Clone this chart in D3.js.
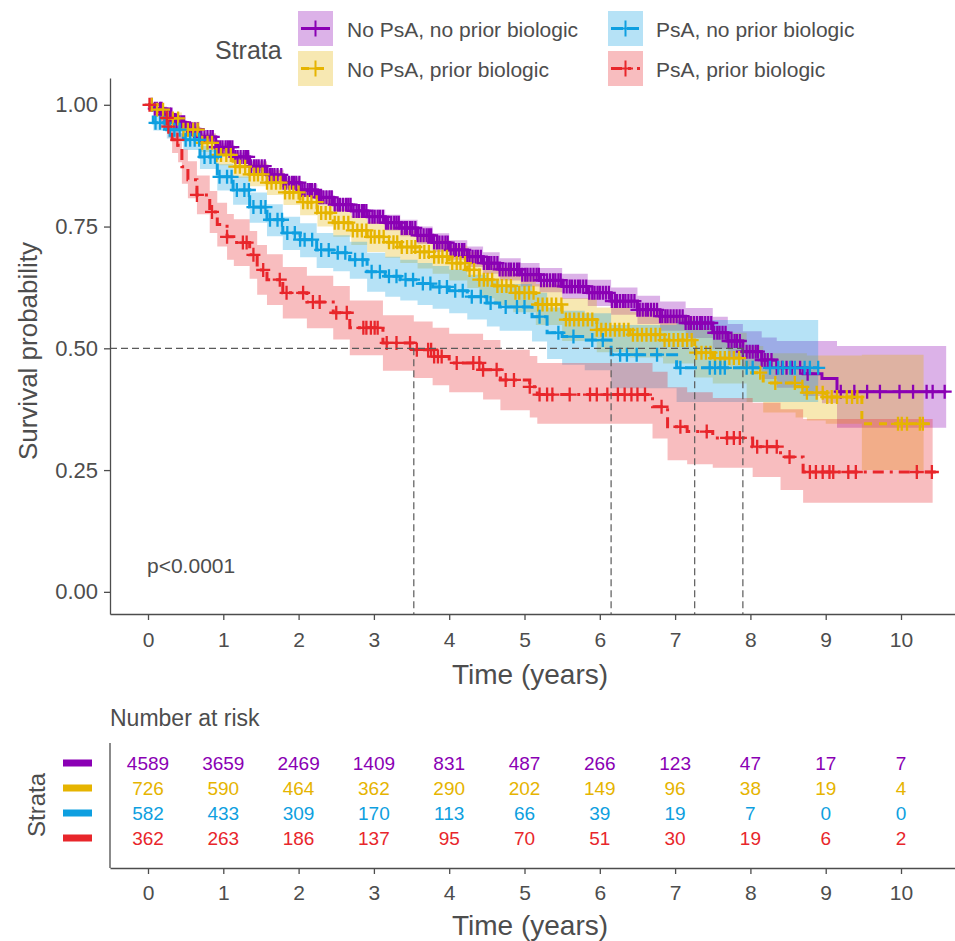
<!DOCTYPE html>
<html>
<head>
<meta charset="utf-8">
<script src="https://cdn.jsdelivr.net/npm/d3@7"></script>
<style>
  body { margin: 0; background: #fff; }
  text { font-family: "Liberation Sans", Arial, sans-serif; fill: #4d4d4d; }
</style>
</head>
<body>
<svg id="chart" width="955" height="941"></svg>
<script>
// ---- data ----
const strata = ["No PsA, no prior biologic", "No PsA, prior biologic", "PsA, no prior biologic", "PsA, prior biologic"];
const colors = ["#8A00B4", "#E6B400", "#0E9FE0", "#E8262B"];
const dashes = [null, "8,7", "12,4", "11,6,3,6"];

const s1Time  = [0, 0.08, 0.2, 0.35, 0.5, 0.69, 0.9, 1.13, 1.35, 1.58, 1.8, 2.02, 2.25, 2.46, 2.7, 2.91, 3.15, 3.35, 3.58, 3.78, 4.0, 4.24, 4.45, 4.67, 4.95, 5.2, 5.5, 5.84, 6.15, 6.5, 6.8, 7.14, 7.5, 7.7, 7.9, 8.15, 8.35, 8.7, 8.95, 9.15];
const s1Surv  = [1, 0.992, 0.98, 0.964, 0.95, 0.934, 0.913, 0.893, 0.874, 0.856, 0.84, 0.825, 0.81, 0.795, 0.782, 0.77, 0.758, 0.747, 0.732, 0.717, 0.702, 0.688, 0.675, 0.662, 0.651, 0.64, 0.627, 0.614, 0.597, 0.579, 0.566, 0.552, 0.532, 0.515, 0.493, 0.476, 0.46, 0.448, 0.438, 0.411];
const s1Lower = [1, 0.989, 0.976, 0.959, 0.944, 0.927, 0.905, 0.884, 0.864, 0.845, 0.829, 0.813, 0.797, 0.782, 0.768, 0.755, 0.742, 0.73, 0.714, 0.698, 0.682, 0.667, 0.653, 0.639, 0.627, 0.615, 0.601, 0.587, 0.569, 0.55, 0.536, 0.521, 0.499, 0.48, 0.457, 0.437, 0.419, 0.402, 0.387, 0.337];
const s1Upper = [1, 0.995, 0.984, 0.969, 0.956, 0.941, 0.921, 0.902, 0.884, 0.867, 0.851, 0.837, 0.823, 0.808, 0.796, 0.785, 0.774, 0.764, 0.75, 0.736, 0.722, 0.709, 0.697, 0.685, 0.675, 0.665, 0.653, 0.641, 0.625, 0.608, 0.596, 0.583, 0.565, 0.55, 0.535, 0.522, 0.515, 0.515, 0.515, 0.505];
const s1Censor = [0.05, 0.09, 0.12, 0.16, 0.18, 0.22, 0.26, 0.29, 0.31, 0.35, 0.38, 0.42, 0.45, 0.48, 0.52, 0.55, 0.58, 0.62, 0.66, 0.69, 0.71, 0.75, 0.79, 0.83, 0.86, 0.9, 0.93, 0.96, 0.99, 1.03, 1.06, 1.09, 1.12, 1.16, 1.19, 1.23, 1.27, 1.3, 1.33, 1.37, 1.41, 1.44, 1.47, 1.51, 1.55, 1.58, 1.62, 1.65, 1.68, 1.72, 1.77, 1.8, 1.83, 1.87, 1.91, 1.94, 1.97, 2.01, 2.05, 2.08, 2.12, 2.15, 2.18, 2.22, 2.27, 2.3, 2.33, 2.37, 2.41, 2.44, 2.48, 2.52, 2.55, 2.59, 2.63, 2.66, 2.69, 2.73, 2.77, 2.8, 2.84, 2.87, 2.9, 2.94, 2.98, 3.01, 3.05, 3.08, 3.12, 3.16, 3.19, 3.23, 3.27, 3.3, 3.33, 3.37, 3.41, 3.44, 3.48, 3.51, 3.55, 3.58, 3.62, 3.66, 3.7, 3.73, 3.76, 3.8, 3.84, 3.87, 3.91, 3.95, 3.98, 4.02, 4.06, 4.09, 4.13, 4.17, 4.2, 4.24, 4.27, 4.31, 4.35, 4.38, 4.42, 4.46, 4.5, 4.53, 4.56, 4.6, 4.64, 4.67, 4.71, 4.75, 4.79, 4.82, 4.86, 4.9, 4.93, 4.97, 5.01, 5.04, 5.08, 5.12, 5.16, 5.19, 5.22, 5.26, 5.3, 5.34, 5.38, 5.41, 5.45, 5.48, 5.52, 5.56, 5.6, 5.63, 5.67, 5.71, 5.74, 5.78, 5.82, 5.86, 5.9, 5.93, 5.97, 6.0, 6.04, 6.08, 6.12, 6.16, 6.2, 6.23, 6.27, 6.31, 6.34, 6.38, 6.42, 6.46, 6.5, 6.53, 6.57, 6.61, 6.64, 6.68, 6.72, 6.76, 6.8, 6.83, 6.87, 6.9, 6.94, 6.98, 7.02, 7.06, 7.1, 7.14, 7.18, 7.21, 7.25, 7.29, 7.33, 7.36, 7.4, 7.44, 7.48, 7.52, 7.56, 7.59, 7.63, 7.67, 7.71, 7.75, 7.79, 7.82, 7.86, 7.9, 7.95, 7.99, 8.03, 8.07, 8.1, 8.15, 8.19, 8.23, 8.28, 8.35, 8.42, 8.48, 8.55, 8.66, 8.76, 9.2, 9.38, 9.55, 9.72, 9.98, 10.16, 10.34, 10.42, 10.58];

const s2Time  = [0, 0.1, 0.25, 0.45, 0.69, 0.9, 1.13, 1.35, 1.58, 1.8, 2.02, 2.25, 2.46, 2.7, 2.91, 3.15, 3.35, 3.58, 3.78, 4.0, 4.24, 4.4, 4.6, 4.85, 5.15, 5.5, 5.96, 6.4, 6.84, 7.26, 7.5, 7.95, 8.17, 8.6, 8.75, 9.0, 9.48];
const s2Surv  = [1, 0.99, 0.972, 0.949, 0.922, 0.897, 0.873, 0.857, 0.84, 0.82, 0.8, 0.778, 0.758, 0.742, 0.729, 0.718, 0.708, 0.698, 0.688, 0.675, 0.661, 0.641, 0.628, 0.614, 0.59, 0.559, 0.538, 0.528, 0.517, 0.491, 0.48, 0.45, 0.429, 0.421, 0.409, 0.4, 0.345];
const s2Lower = [1, 0.983, 0.96, 0.933, 0.903, 0.876, 0.85, 0.833, 0.815, 0.794, 0.773, 0.75, 0.729, 0.712, 0.698, 0.686, 0.675, 0.664, 0.653, 0.639, 0.624, 0.603, 0.589, 0.574, 0.548, 0.515, 0.492, 0.481, 0.469, 0.44, 0.428, 0.39, 0.368, 0.358, 0.352, 0.345, 0.25];
const s2Upper = [1, 0.997, 0.984, 0.965, 0.941, 0.918, 0.896, 0.881, 0.865, 0.846, 0.827, 0.806, 0.787, 0.772, 0.76, 0.75, 0.741, 0.732, 0.723, 0.711, 0.698, 0.679, 0.667, 0.654, 0.632, 0.603, 0.584, 0.575, 0.565, 0.542, 0.532, 0.505, 0.49, 0.49, 0.485, 0.485, 0.487];
const s2Censor = [0.05, 0.12, 0.2, 0.26, 0.33, 0.4, 0.47, 0.53, 0.6, 0.66, 0.72, 0.79, 0.85, 0.91, 0.97, 1.04, 1.1, 1.16, 1.22, 1.29, 1.35, 1.41, 1.46, 1.52, 1.58, 1.64, 1.7, 1.76, 1.82, 1.88, 1.93, 2.0, 2.06, 2.12, 2.17, 2.24, 2.3, 2.36, 2.42, 2.48, 2.53, 2.6, 2.66, 2.72, 2.78, 2.84, 2.9, 2.96, 3.01, 3.07, 3.13, 3.2, 3.26, 3.31, 3.37, 3.44, 3.5, 3.55, 3.61, 3.67, 3.73, 3.8, 3.86, 3.91, 3.97, 4.04, 4.1, 4.15, 4.21, 4.27, 4.33, 4.4, 4.46, 4.51, 4.57, 4.64, 4.7, 4.76, 4.82, 4.88, 4.93, 5.0, 5.06, 5.12, 5.18, 5.24, 5.3, 5.36, 5.42, 5.49, 5.55, 5.6, 5.66, 5.72, 5.78, 5.84, 5.9, 5.96, 6.02, 6.08, 6.14, 6.2, 6.26, 6.32, 6.38, 6.44, 6.5, 6.56, 6.62, 6.68, 6.74, 6.8, 6.86, 6.92, 6.98, 7.04, 7.1, 7.16, 7.22, 7.28, 7.35, 7.41, 7.47, 7.53, 7.6, 7.66, 7.72, 7.78, 7.85, 8.13, 8.33, 8.59, 8.69, 8.75, 8.88, 8.96, 9.02, 9.08, 9.15, 9.28, 9.35, 9.42, 9.96, 10.01, 10.08, 10.25, 10.29];

const s3Time  = [0, 0.07, 0.25, 0.47, 0.69, 0.92, 1.13, 1.35, 1.58, 1.79, 2.02, 2.24, 2.46, 2.68, 2.91, 3.15, 3.35, 3.58, 3.78, 4.0, 4.24, 4.5, 4.67, 5.1, 5.3, 5.5, 5.8, 6.15, 7.02];
const s3Surv  = [1, 0.963, 0.949, 0.928, 0.893, 0.852, 0.825, 0.79, 0.764, 0.737, 0.723, 0.702, 0.696, 0.682, 0.657, 0.648, 0.641, 0.633, 0.626, 0.618, 0.606, 0.593, 0.585, 0.565, 0.532, 0.524, 0.517, 0.487, 0.46];
const s3Lower = [1, 0.947, 0.931, 0.907, 0.868, 0.824, 0.795, 0.758, 0.73, 0.702, 0.687, 0.665, 0.658, 0.643, 0.616, 0.606, 0.598, 0.589, 0.581, 0.572, 0.559, 0.545, 0.536, 0.514, 0.478, 0.466, 0.455, 0.418, 0.39];
const s3Upper = [1, 0.978, 0.966, 0.948, 0.916, 0.878, 0.853, 0.82, 0.796, 0.77, 0.757, 0.737, 0.732, 0.719, 0.696, 0.688, 0.682, 0.675, 0.669, 0.662, 0.651, 0.639, 0.632, 0.614, 0.584, 0.577, 0.572, 0.548, 0.558];
const s3Censor = [0.1, 0.16, 0.22, 0.29, 0.35, 0.42, 0.5, 0.56, 0.62, 0.68, 0.75, 0.83, 0.89, 0.95, 1.05, 1.11, 1.18, 1.28, 1.34, 1.4, 1.5, 1.56, 1.62, 1.72, 1.78, 1.85, 1.95, 2.02, 2.08, 2.18, 2.3, 2.4, 2.52, 2.62, 2.75, 2.85, 2.97, 3.08, 3.2, 3.3, 3.42, 3.52, 3.65, 3.75, 3.87, 3.97, 4.08, 4.18, 4.3, 4.42, 4.55, 4.75, 4.9, 5.0, 5.2, 5.45, 5.65, 5.9, 6.04, 6.27, 6.36, 6.49, 6.76, 7.07, 7.46, 7.53, 7.6, 7.66, 7.95, 8.03, 8.26, 8.37, 8.43, 8.53, 8.59, 8.72, 8.79, 8.9];

const s4Time  = [0, 0.15, 0.27, 0.32, 0.4, 0.45, 0.53, 0.65, 0.82, 0.92, 1.05, 1.14, 1.35, 1.45, 1.58, 1.79, 2.11, 2.46, 2.68, 3.12, 3.53, 3.78, 4.0, 4.45, 4.68, 5.07, 5.17, 6.7, 6.9, 7.16, 7.5, 8.03, 8.4, 8.7];
const s4Surv  = [1, 0.973, 0.955, 0.928, 0.912, 0.873, 0.846, 0.815, 0.78, 0.754, 0.729, 0.717, 0.692, 0.661, 0.641, 0.614, 0.595, 0.573, 0.542, 0.511, 0.497, 0.483, 0.47, 0.456, 0.435, 0.421, 0.405, 0.38, 0.339, 0.329, 0.316, 0.298, 0.277, 0.246];
const s4Lower = [1, 0.956, 0.933, 0.901, 0.882, 0.838, 0.808, 0.775, 0.737, 0.709, 0.682, 0.669, 0.643, 0.61, 0.589, 0.561, 0.541, 0.518, 0.486, 0.454, 0.439, 0.424, 0.41, 0.395, 0.373, 0.358, 0.345, 0.315, 0.27, 0.262, 0.255, 0.236, 0.209, 0.183];
const s4Upper = [1, 0.99, 0.977, 0.955, 0.942, 0.908, 0.884, 0.855, 0.823, 0.799, 0.776, 0.765, 0.741, 0.712, 0.693, 0.667, 0.649, 0.628, 0.598, 0.568, 0.555, 0.542, 0.53, 0.517, 0.497, 0.484, 0.47, 0.452, 0.42, 0.41, 0.398, 0.388, 0.375, 0.355];
const s4Censor = [0.02, 0.25, 0.27, 0.39, 0.65, 0.85, 1.05, 1.26, 1.31, 1.4, 1.53, 1.75, 1.84, 2.06, 2.19, 2.28, 2.5, 2.64, 2.86, 2.9, 2.96, 3.01, 3.05, 3.17, 3.3, 3.48, 3.57, 3.72, 3.76, 3.8, 3.85, 3.9, 4.1, 4.32, 4.4, 4.45, 4.63, 4.75, 4.86, 5.07, 5.2, 5.3, 5.37, 5.6, 5.87, 5.96, 6.1, 6.24, 6.33, 6.42, 6.5, 6.6, 6.82, 7.07, 7.42, 7.69, 7.78, 7.86, 8.09, 8.22, 8.35, 8.52, 8.79, 8.87, 8.96, 9.05, 9.1, 9.3, 9.4, 10.21, 10.41];

const endTimes  = [10.6, 10.38, 8.9, 10.52];
const bandEnds  = [10.6, 10.3, 8.9, 10.42];
const medians   = [7.9, 7.26, 6.15, 3.53];

const riskTimes = [0, 1, 2, 3, 4, 5, 6, 7, 8, 9, 10];
const risk1 = [4589, 3659, 2469, 1409, 831, 487, 266, 123, 47, 17, 7];
const risk2 = [726, 590, 464, 362, 290, 202, 149, 96, 38, 19, 4];
const risk3 = [582, 433, 309, 170, 113, 66, 39, 19, 7, 0, 0];
const risk4 = [362, 263, 186, 137, 95, 70, 51, 30, 19, 6, 2];

const xTicks = [0, 1, 2, 3, 4, 5, 6, 7, 8, 9, 10];
const yTicks = [0, 0.25, 0.5, 0.75, 1];
const pValue = "p<0.0001";

// ---- build series ----
const raw = [
  [s1Time, s1Surv, s1Lower, s1Upper, s1Censor, risk1],
  [s2Time, s2Surv, s2Lower, s2Upper, s2Censor, risk2],
  [s3Time, s3Surv, s3Lower, s3Upper, s3Censor, risk3],
  [s4Time, s4Surv, s4Lower, s4Upper, s4Censor, risk4]
];
const series = raw.map((r, i) => {
  const pts = r[0].map((t, j) => ({ t: t, s: r[1][j], lo: r[2][j], hi: r[3][j] }));
  const last = pts[pts.length - 1];
  return {
    name: strata[i], color: colors[i], dash: dashes[i],
    time: r[0], surv: r[1], censor: r[4], risk: r[5],
    line: pts.concat([{ t: endTimes[i], s: last.s }]),
    band: pts.concat([{ t: bandEnds[i], lo: last.lo, hi: last.hi }])
  };
});
function survAt(d, t) {
  const idx = d3.bisectRight(d.time, t) - 1;
  return d.surv[Math.max(0, idx)];
}

// ---- layout ----
const svg = d3.select("#chart");
const axisColor = "#4d4d4d";
const x = d3.scaleLinear().domain([-0.5046, 10.717]).range([110, 955]);
const y = d3.scaleLinear().domain([-0.0455, 1.055]).range([614, 78]);

const plot = svg.append("g");

// confidence bands
const area = d3.area()
  .curve(d3.curveStepAfter)
  .x(d => x(d.t)).y0(d => y(d.lo)).y1(d => y(d.hi));
plot.selectAll(".band").data(series).join("path")
  .attr("class", "band")
  .attr("d", d => area(d.band))
  .attr("fill", d => d.color)
  .attr("fill-opacity", 0.3);

// survival curves
const line = d3.line().curve(d3.curveStepAfter).x(d => x(d.t)).y(d => y(d.s));
plot.selectAll(".curve").data(series).join("path")
  .attr("class", "curve")
  .attr("d", d => line(d.line))
  .attr("fill", "none")
  .attr("stroke", d => d.color)
  .attr("stroke-width", 3)
  .attr("stroke-dasharray", d => d.dash);

// censor marks
const cross = "M-7,0H7M0,-7V7";
series.forEach(d => {
  plot.append("g").selectAll("path").data(d.censor).join("path")
    .attr("d", cross)
    .attr("transform", t => `translate(${x(t)},${y(survAt(d, t))})`)
    .attr("stroke", d.color)
    .attr("stroke-width", 2.3);
});

// median lines
const medGroup = plot.append("g")
  .attr("stroke", "#5a5a5a").attr("stroke-width", 1.2).attr("stroke-dasharray", "7,4").attr("fill", "none");
medGroup.append("line")
  .attr("x1", x.range()[0]).attr("x2", x(d3.max(medians)))
  .attr("y1", y(0.5)).attr("y2", y(0.5));
medGroup.selectAll(".vmed").data(medians).join("line")
  .attr("x1", d => x(d)).attr("x2", d => x(d))
  .attr("y1", y(0.5)).attr("y2", y.range()[0]);

// axes
function styleAxis(g, size) {
  g.select(".domain").attr("stroke", axisColor).attr("stroke-width", 1.3);
  g.selectAll(".tick line").attr("stroke", axisColor).attr("stroke-width", 1.3);
  g.selectAll(".tick text").attr("fill", axisColor)
    .style("font-size", size + "px")
    .style("font-family", "'Liberation Sans', Arial, sans-serif");
}
const xAxisG = svg.append("g").attr("transform", "translate(0,614)")
  .call(d3.axisBottom(x).tickValues(xTicks).tickSize(6).tickSizeOuter(0).tickPadding(12));
styleAxis(xAxisG, 21);
const yAxisG = svg.append("g").attr("transform", "translate(110,0)")
  .call(d3.axisLeft(y).tickValues(yTicks).tickFormat(d3.format(".2f")).tickSize(6).tickSizeOuter(0).tickPadding(6));
styleAxis(yAxisG, 22);

svg.append("text").attr("x", 530).attr("y", 684).attr("text-anchor", "middle")
  .style("font-size", "28px").text("Time (years)");
svg.append("text").attr("transform", "translate(37,351) rotate(-90)").attr("text-anchor", "middle")
  .style("font-size", "26px").text("Survival probability");
svg.append("text").attr("x", 147).attr("y", 573).style("font-size", "21px").text(pValue);

// legend
const legend = svg.append("g");
legend.append("text").attr("x", 215).attr("y", 59).style("font-size", "25px").text("Strata");
const legendItems = legend.selectAll(".legend-item").data(series).join("g")
  .attr("class", "legend-item")
  .attr("transform", (d, i) => `translate(${i < 2 ? 298 : 608},${i % 2 === 0 ? 11 : 51})`);
legendItems.append("rect")
  .attr("width", 35).attr("height", 35)
  .attr("fill", d => d.color).attr("fill-opacity", 0.3);
legendItems.append("line")
  .attr("x1", 3).attr("x2", 32).attr("y1", 17.5).attr("y2", 17.5)
  .attr("stroke", d => d.color).attr("stroke-width", 3)
  .attr("stroke-dasharray", d => d.dash);
legendItems.append("path")
  .attr("d", "M10,17.5H25M17.5,9.5V25.5")
  .attr("stroke", d => d.color).attr("stroke-width", 2);
legendItems.append("text")
  .attr("x", (d, i) => i < 2 ? 49 : 48).attr("y", 25.5)
  .style("font-size", "21px").text(d => d.name);

// ---- risk table ----
svg.append("text").attr("x", 110).attr("y", 726).style("font-size", "23px").text("Number at risk");
const rowY = d3.scalePoint().domain(strata).range([763, 838]);
const table = svg.append("g");
series.forEach(d => {
  table.append("g").selectAll("text").data(d.risk).join("text")
    .attr("x", (v, j) => x(riskTimes[j]))
    .attr("y", rowY(d.name) + 7)
    .attr("text-anchor", "middle")
    .style("font-size", "19px")
    .style("fill", d.color)
    .text(v => v);
});
table.selectAll(".key").data(series).join("rect")
  .attr("x", 63).attr("y", d => rowY(d.name) - 3.5)
  .attr("width", 29).attr("height", 7)
  .attr("fill", d => d.color);
table.append("line").attr("x1", 110).attr("x2", 110).attr("y1", 743).attr("y2", 868)
  .attr("stroke", axisColor).attr("stroke-width", 1.3);
const tAxisG = svg.append("g").attr("transform", "translate(0,868)")
  .call(d3.axisBottom(x).tickValues(xTicks).tickSize(6).tickSizeOuter(0).tickPadding(11));
styleAxis(tAxisG, 21);
svg.append("text").attr("transform", "translate(45,805) rotate(-90)").attr("text-anchor", "middle")
  .style("font-size", "24px").text("Strata");
svg.append("text").attr("x", 530).attr("y", 935).attr("text-anchor", "middle")
  .style("font-size", "28px").text("Time (years)");
</script>
</body>
</html>
